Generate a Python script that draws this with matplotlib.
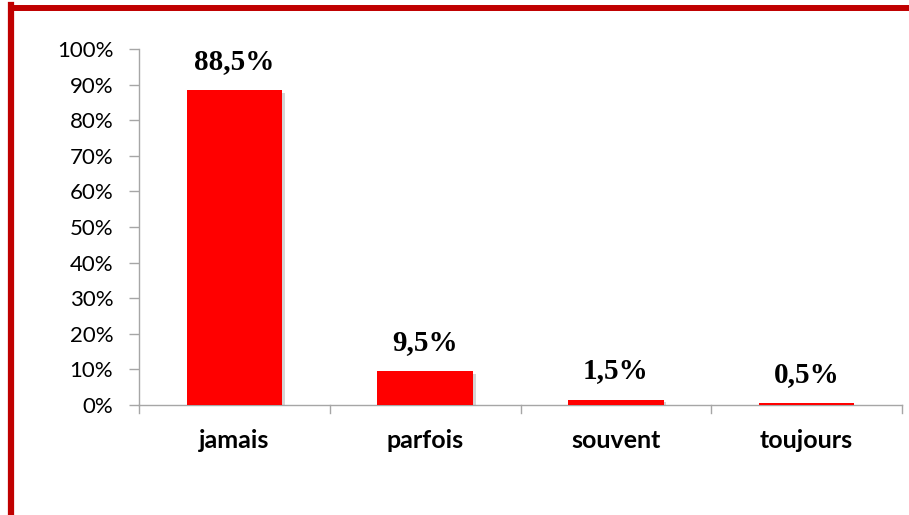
import matplotlib
matplotlib.use("Agg")
import matplotlib.pyplot as plt
import matplotlib.patheffects as pe
from matplotlib.lines import Line2D

categories = ["jamais", "parfois", "souvent", "toujours"]
values = [88.5, 9.5, 1.5, 0.5]
value_labels = ["88,5%", "9,5%", "1,5%", "0,5%"]
yticks = [0, 10, 20, 30, 40, 50, 60, 70, 80, 90, 100]
ytick_labels = [f"{t}%" for t in yticks]

W, H = 909, 515
fig = plt.figure(figsize=(W / 100, H / 100), dpi=100)
fig.patch.set_facecolor("white")

# Dark red frame along the top and left edges
border = "#C00000"
fig.add_artist(Line2D([11 / W, 11 / W], [0, 1 - 5 / H], color=border, lw=4.5,
                      solid_capstyle="projecting", transform=fig.transFigure))
fig.add_artist(Line2D([11 / W, 1], [1 - 8 / H, 1 - 8 / H], color=border, lw=4.3,
                      solid_capstyle="projecting", transform=fig.transFigure))

ax = fig.add_axes([139 / W, 1 - 405 / H, (902 - 139) / W, (405 - 49) / H])
x = list(range(len(categories)))
bars = ax.bar(x, values, width=0.5, color="#FF0000", zorder=3)
for b in bars:
    b.set_path_effects([pe.SimplePatchShadow(offset=(2, -2), shadow_rgbFace="#888888", alpha=0.35),
                        pe.Normal()])

ax.set_xlim(-0.5, len(categories) - 0.5)
ax.set_ylim(0, 100)

ax.set_yticks(yticks)
ax.set_yticklabels(ytick_labels, fontsize=16, family="Lato", color="#000000")
ax.set_xticks(x)
ax.set_xticklabels(categories, fontsize=18, family="Lato", fontweight="bold")
ax.tick_params(axis="x", length=0, pad=17)
ax.tick_params(axis="y", length=7.5, color="#a6a6a6", width=1, pad=11)

# Category boundary ticks on the x axis
for xb in [-0.5, 0.5, 1.5, 2.5, 3.5]:
    ax.plot([xb, xb], [0, -2.3], color="#a6a6a6", lw=1, clip_on=False, zorder=2)

for s in ["top", "right"]:
    ax.spines[s].set_visible(False)
for s in ["left", "bottom"]:
    ax.spines[s].set_color("#a6a6a6")
    ax.spines[s].set_linewidth(1)

for xi, v, lab in zip(x, values, value_labels):
    ax.annotate(lab, (xi, v), xytext=(0, 11), textcoords="offset points",
                ha="center", va="bottom", fontsize=21, fontweight="bold",
                family="Liberation Serif")

fig.savefig("out.png", dpi=100, facecolor="white")
